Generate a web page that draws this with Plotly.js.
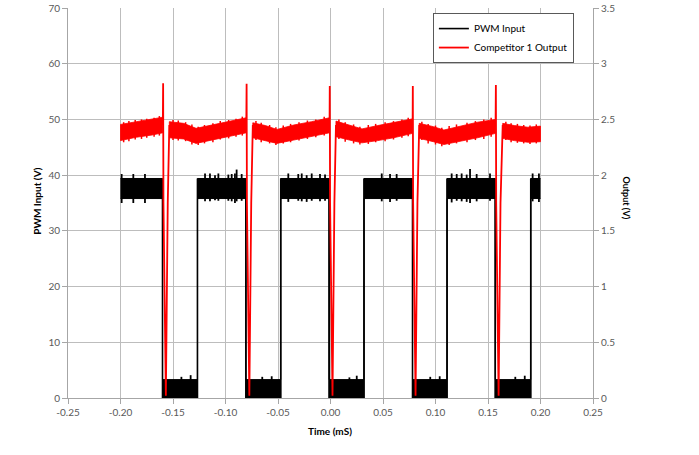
<!DOCTYPE html>
<html>
<head>
<meta charset="utf-8">
<script src="https://cdn.plot.ly/plotly-3.0.1.min.js"></script>
<style>html,body{margin:0;padding:0;background:#fff;}#chart{width:699px;height:455px;}</style>
</head>
<body>
<div id="chart"></div>
<script>
// ---------------- DATA ----------------
// Axis ticks
const xTickVals = [-0.25, -0.20, -0.15, -0.10, -0.05, 0.00, 0.05, 0.10, 0.15, 0.20, 0.25];
const xTickText = ['-0.25', '-0.20', '-0.15', '-0.10', '-0.05', '0.00', '0.05', '0.10', '0.15', '0.20', '0.25'];
const yTickVals = [0, 10, 20, 30, 40, 50, 60, 70];
const y2TickVals = [0, 0.5, 1, 1.5, 2, 2.5, 3, 3.5];
const y2TickText = ['0', '0.5', '1', '1.5', '2', '2.5', '3', '3.5'];

// PWM Input (left axis, V)
const pwmStart = -0.200;
const pwmEnd = 0.200;
const pwmFallT = [-0.1600, -0.0806, -0.0013, 0.0781, 0.1569];
const pwmRiseT = [-0.1267, -0.0474, 0.0319, 0.1110, 0.1907];
const pwmHighTop = 39.4;
const pwmHighBottom = 35.8;
const pwmLowTop = 3.3;
const pwmLowBottom = 0.0;
// noise spikes on the PWM band
const pwmSpikeT  = [-0.1989, -0.1878, -0.1767, -0.1195, -0.1148, -0.1100, -0.1068, -0.0973, -0.0941, -0.0910, -0.0894, -0.0846,
                    -0.0402, -0.0307, -0.0274, -0.0227, -0.0179, -0.0100, -0.0052, 0.0488, 0.0567, 0.0630,
                    0.1154, 0.1202, 0.1249, 0.1297, 0.1329, 0.1392, 0.1519, 0.1925, 0.1985];
const pwmSpikeHi = [40.2, 40.2, 40.2, 40.3, 40.3, 40.0, 40.3, 40.1, 40.2, 40.3, 41.0, 40.2,
                    40.3, 40.2, 40.3, 40.0, 40.3, 40.2, 40.1, 40.3, 40.2, 40.2,
                    40.3, 40.2, 40.3, 40.1, 41.1, 40.2, 40.3, 40.3, 40.3];
const pwmSpikeLo = [35.0, 35.0, 35.0, 35.3, 35.3, 35.5, 35.4, 35.4, 35.3, 35.0, 35.3, 35.4,
                    35.2, 35.4, 35.3, 35.2, 35.4, 35.3, 35.4, 35.3, 35.2, 35.4,
                    35.1, 35.4, 35.3, 35.2, 35.0, 35.3, 35.4, 35.3, 35.2];
const pwmLowSpikeT = [-0.1332, -0.1420, -0.0560, -0.0650, 0.0250, 0.0180, 0.1040, 0.0950, 0.1850, 0.1760];
const pwmLowSpikeV = [4.1, 3.8, 3.9, 3.8, 4.0, 3.7, 3.9, 3.8, 4.0, 3.8];

// Competitor 1 Output (right axis, V) - noisy band segments
const redSeg0T = [-0.2000, -0.1850, -0.1700, -0.1597];
const redSeg0U = [2.455, 2.480, 2.500, 2.520];
const redSeg0L = [2.310, 2.340, 2.360, 2.380];
const redSeg1T = [-0.1535, -0.1400, -0.1280, -0.1150, -0.1000, -0.0802];
const redSeg1U = [2.480, 2.465, 2.420, 2.445, 2.480, 2.515];
const redSeg1L = [2.335, 2.325, 2.285, 2.310, 2.340, 2.380];
const redSeg2T = [-0.0740, -0.0620, -0.0510, -0.0350, -0.0180, -0.0009];
const redSeg2U = [2.470, 2.445, 2.410, 2.450, 2.480, 2.515];
const redSeg2L = [2.335, 2.310, 2.285, 2.315, 2.345, 2.380];
const redSeg3T = [0.0052, 0.0180, 0.0300, 0.0450, 0.0600, 0.0782];
const redSeg3U = [2.485, 2.450, 2.415, 2.445, 2.470, 2.505];
const redSeg3L = [2.345, 2.315, 2.290, 2.310, 2.335, 2.375];
const redSeg4T = [0.0845, 0.0980, 0.1080, 0.1250, 0.1400, 0.1572];
const redSeg4U = [2.465, 2.435, 2.405, 2.440, 2.475, 2.500];
const redSeg4L = [2.330, 2.300, 2.275, 2.305, 2.335, 2.375];
const redSeg5T = [0.1640, 0.1750, 0.1880, 0.2000];
const redSeg5U = [2.465, 2.445, 2.430, 2.440];
const redSeg5L = [2.330, 2.310, 2.295, 2.300];
// ragged noise on the red band
const redNoiseT  = [-0.197, -0.192, -0.186, -0.180, -0.175, -0.168, -0.163,
                    -0.150, -0.145, -0.138, -0.132, -0.126, -0.120, -0.112, -0.105, -0.097, -0.090, -0.084,
                    -0.071, -0.066, -0.058, -0.052, -0.045, -0.038, -0.030, -0.022, -0.014, -0.006,
                    0.008, 0.014, 0.022, 0.028, 0.036, 0.043, 0.052, 0.060, 0.068, 0.074,
                    0.087, 0.093, 0.100, 0.106, 0.113, 0.120, 0.130, 0.138, 0.146, 0.153,
                    0.167, 0.172, 0.178, 0.184, 0.190, 0.196];
const redNoiseHi = [2.475, 2.485, 2.495, 2.500, 2.505, 2.515, 2.530,
                    2.495, 2.490, 2.475, 2.455, 2.435, 2.450, 2.465, 2.485, 2.495, 2.505, 2.525,
                    2.485, 2.470, 2.450, 2.430, 2.445, 2.460, 2.475, 2.490, 2.500, 2.525,
                    2.500, 2.475, 2.455, 2.435, 2.450, 2.460, 2.475, 2.485, 2.500, 2.515,
                    2.480, 2.460, 2.445, 2.425, 2.440, 2.455, 2.470, 2.485, 2.500, 2.515,
                    2.480, 2.465, 2.460, 2.450, 2.445, 2.455];
const redNoiseLo = [2.295, 2.305, 2.320, 2.325, 2.335, 2.345, 2.355,
                    2.315, 2.310, 2.305, 2.275, 2.270, 2.285, 2.295, 2.320, 2.330, 2.345, 2.355,
                    2.315, 2.295, 2.285, 2.270, 2.285, 2.295, 2.310, 2.325, 2.340, 2.355,
                    2.325, 2.300, 2.285, 2.275, 2.280, 2.295, 2.305, 2.320, 2.335, 2.350,
                    2.315, 2.285, 2.275, 2.260, 2.270, 2.285, 2.295, 2.315, 2.325, 2.345,
                    2.315, 2.295, 2.290, 2.285, 2.280, 2.285];
// spikes / drop-outs at each PWM falling edge
const redSpikeT   = [-0.1594, -0.0799, -0.0007, 0.0784, 0.1575];
const redSpikeTop = [2.825, 2.820, 2.800, 2.800, 2.810];
const redKneeT    = [-0.1591, -0.0796, -0.0004, 0.0787, 0.1578];
const redKneeV    = 1.75;
const redBottomT  = [-0.1568, -0.0773, 0.0019, 0.0810, 0.1601];
const redBottomV  = 0.02;
const redRiseT    = [-0.1550, -0.0755, 0.0037, 0.0828, 0.1619];
const redRiseV    = 1.75;
const redRecoverV = 2.45;

// ---------------- BUILD TRACES ----------------
const pX = [], pU = [], pL = [];
function pp(x, u, l) { pX.push(x); pU.push(u); pL.push(l); }
pp(pwmStart, pwmHighTop, pwmHighBottom);
for (let i = 0; i < pwmFallT.length; i++) {
  pp(pwmFallT[i], pwmHighTop, pwmHighBottom);
  pp(pwmFallT[i], pwmLowTop, pwmLowBottom);
  pp(pwmRiseT[i], pwmLowTop, pwmLowBottom);
  pp(pwmRiseT[i], pwmHighTop, pwmHighBottom);
}
pp(pwmEnd, pwmHighTop, pwmHighBottom);

const edgeX = [], edgeY = [];
for (let i = 0; i < pwmFallT.length; i++) {
  edgeX.push(pwmFallT[i], pwmFallT[i], null, pwmRiseT[i], pwmRiseT[i], null);
  edgeY.push(pwmHighTop, pwmLowBottom, null, pwmLowBottom, pwmHighTop, null);
}
const noiseX = [], noiseY = [];
for (let i = 0; i < pwmSpikeT.length; i++) {
  noiseX.push(pwmSpikeT[i], pwmSpikeT[i], null);
  noiseY.push(pwmSpikeLo[i], pwmSpikeHi[i], null);
}
for (let i = 0; i < pwmLowSpikeT.length; i++) {
  noiseX.push(pwmLowSpikeT[i], pwmLowSpikeT[i], null);
  noiseY.push(pwmLowBottom, pwmLowSpikeV[i], null);
}

const segs = [[redSeg0T, redSeg0U, redSeg0L], [redSeg1T, redSeg1U, redSeg1L], [redSeg2T, redSeg2U, redSeg2L],
              [redSeg3T, redSeg3U, redSeg3L], [redSeg4T, redSeg4U, redSeg4L], [redSeg5T, redSeg5U, redSeg5L]];
const bandX = [], bandY = [];
segs.forEach((s, k) => {
  const [t, u, l] = s;
  for (let i = 0; i < t.length; i++) { bandX.push(t[i]); bandY.push(u[i]); }
  for (let i = t.length - 1; i >= 0; i--) { bandX.push(t[i]); bandY.push(l[i]); }
  bandX.push(t[0]); bandY.push(u[0]);
  if (k < segs.length - 1) { bandX.push(null); bandY.push(null); }
});
const rnX = [], rnY = [];
for (let i = 0; i < redNoiseT.length; i++) {
  rnX.push(redNoiseT[i], redNoiseT[i], null);
  rnY.push(redNoiseLo[i], redNoiseHi[i], null);
}

const spX = [], spY = [];
for (let i = 0; i < redSpikeT.length; i++) {
  const s = segs[i], n = s[0].length - 1;
  const nx = segs[i + 1];
  spX.push(s[0][n], redSpikeT[i], redKneeT[i], redBottomT[i], redRiseT[i], nx[0][0], null);
  spY.push((s[1][n] + s[2][n]) / 2, redSpikeTop[i], redKneeV, redBottomV, redRiseV, redRecoverV, null);
}

const traces = [
  {x: pX, y: pL, mode: 'lines', line: {color: '#000', width: 1}, showlegend: false, hoverinfo: 'skip'},
  {x: pX, y: pU, mode: 'lines', fill: 'tonexty', fillcolor: '#000', line: {color: '#000', width: 1}, showlegend: false, hoverinfo: 'skip'},
  {x: noiseX, y: noiseY, mode: 'lines', line: {color: '#000', width: 1.8}, showlegend: false, hoverinfo: 'skip'},
  {x: edgeX, y: edgeY, mode: 'lines', line: {color: '#000', width: 1.6}, name: 'PWM Input'},
  {x: bandX, y: bandY, yaxis: 'y2', mode: 'lines', fill: 'toself', fillcolor: '#ff0000', line: {color: '#ff0000', width: 0.8}, showlegend: false, hoverinfo: 'skip'},
  {x: rnX, y: rnY, yaxis: 'y2', mode: 'lines', line: {color: '#ff0000', width: 1.5}, showlegend: false, hoverinfo: 'skip'},
  {x: spX, y: spY, yaxis: 'y2', mode: 'lines', line: {color: '#ff0000', width: 1.8}, name: 'Competitor 1 Output'}
];

const tickFont = {family: 'Lato, sans-serif', size: 10, color: '#595959'};
const layout = {
  width: 699, height: 455,
  margin: {l: 68, r: 106, t: 8, b: 57, pad: 0},
  paper_bgcolor: '#fff', plot_bgcolor: '#fff',
  font: {family: 'Lato, sans-serif'},
  showlegend: true,
  legend: {x: 0.695, y: 0.987, xanchor: 'left', yanchor: 'top', traceorder: 'normal', bgcolor: '#fff', bordercolor: '#595959', borderwidth: 1,
           font: {family: 'Lato, sans-serif', size: 10, color: '#000'}},
  xaxis: {range: [-0.25, 0.25], tickvals: xTickVals, ticktext: xTickText, showgrid: true, gridcolor: '#bdbdbd', gridwidth: 1,
          zeroline: false, showline: true, linecolor: '#a6a6a6', ticks: 'outside', ticklen: 5, tickcolor: '#a6a6a6',
          tickfont: tickFont, fixedrange: true},
  yaxis: {range: [0, 70], tickvals: yTickVals, showgrid: true, gridcolor: '#bdbdbd', gridwidth: 1, zeroline: false,
          showline: true, linecolor: '#a6a6a6', ticks: 'outside', ticklen: 5, tickcolor: '#a6a6a6', tickfont: tickFont},
  yaxis2: {range: [0, 3.5], overlaying: 'y', side: 'right', tickvals: y2TickVals, ticktext: y2TickText, showgrid: false,
           zeroline: false, showline: true, linecolor: '#a6a6a6', ticks: 'outside', ticklen: 5, tickcolor: '#a6a6a6', tickfont: tickFont},
  annotations: [
    {text: '<b>Time (mS)</b>', xref: 'paper', yref: 'paper', x: 0.499, y: -0.0846, xanchor: 'center', yanchor: 'middle',
     showarrow: false, font: {family: 'Lato, sans-serif', size: 10, color: '#000'}},
    {text: '<b>PWM Input (V)</b>', xref: 'paper', yref: 'paper', x: -0.0596, y: 0.505, xanchor: 'center', yanchor: 'middle',
     textangle: -90, showarrow: false, font: {family: 'Lato, sans-serif', size: 10, color: '#000'}},
    {text: '<b>Output (V)</b>', xref: 'paper', yref: 'paper', x: 1.063, y: 0.514, xanchor: 'center', yanchor: 'middle',
     textangle: 90, showarrow: false, font: {family: 'Lato, sans-serif', size: 9, color: '#000'}}
  ]
};
Plotly.newPlot('chart', traces, layout, {displayModeBar: false, staticPlot: true});
</script>
</body>
</html>
